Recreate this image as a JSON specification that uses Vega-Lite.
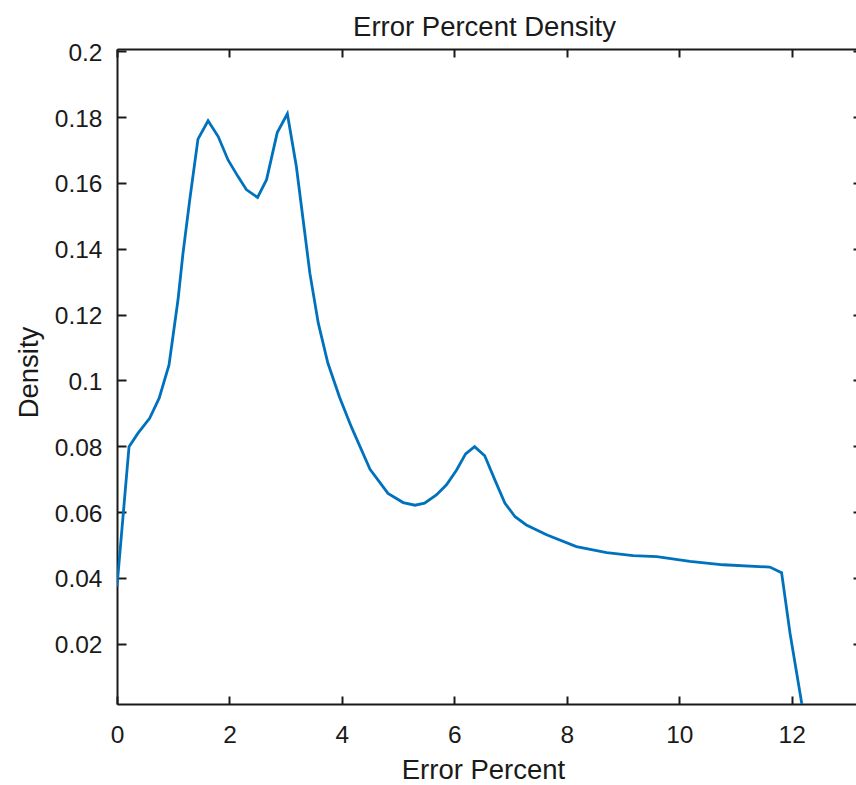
{
  "$schema": "https://vega.github.io/schema/vega-lite/v6.json",
  "autosize": "none",
  "width": 745,
  "height": 655,
  "padding": {"left": 117, "top": 49, "right": 0, "bottom": 81},
  "background": "white",
  "config": {
    "font": "Liberation Sans",
    "view": {"stroke": null},
    "axis": {"grid": false, "labelFlush": false, "labelOverlap": false, "domainColor": "#1a1a1a", "domainWidth": 2, "tickColor": "#1a1a1a", "tickWidth": 2, "labelColor": "#1a1a1a", "titleColor": "#1a1a1a", "labelFont": "Liberation Sans", "titleFont": "Liberation Sans", "labelFontSize": 24.5, "titleFontSize": 27.5, "titleFontWeight": "normal"}
  },
  "title": {"text": "Error Percent Density", "fontSize": 27.5, "fontWeight": "normal", "font": "Liberation Sans", "color": "#1a1a1a", "anchor": "middle", "baseline": "alphabetic", "offset": -23, "dx": -5},
  "data": {"values": [
    {"x": 0.0, "y": 0.0374},
    {"x": 0.214, "y": 0.0799},
    {"x": 0.374, "y": 0.084},
    {"x": 0.58, "y": 0.0885},
    {"x": 0.75, "y": 0.0946},
    {"x": 0.925, "y": 0.1047},
    {"x": 1.085, "y": 0.1245},
    {"x": 1.174, "y": 0.1387},
    {"x": 1.294, "y": 0.1549},
    {"x": 1.44, "y": 0.1733},
    {"x": 1.62, "y": 0.1789},
    {"x": 1.8, "y": 0.1741},
    {"x": 1.975, "y": 0.167},
    {"x": 2.15, "y": 0.162},
    {"x": 2.3, "y": 0.158},
    {"x": 2.5, "y": 0.1556},
    {"x": 2.66, "y": 0.161},
    {"x": 2.85, "y": 0.1753},
    {"x": 3.03, "y": 0.181},
    {"x": 3.19, "y": 0.165},
    {"x": 3.34, "y": 0.1448},
    {"x": 3.43, "y": 0.1326},
    {"x": 3.58, "y": 0.1174},
    {"x": 3.75, "y": 0.1053},
    {"x": 3.96, "y": 0.0948},
    {"x": 4.17, "y": 0.0858},
    {"x": 4.5, "y": 0.073},
    {"x": 4.82, "y": 0.0657},
    {"x": 5.09, "y": 0.0629},
    {"x": 5.3, "y": 0.0621},
    {"x": 5.47, "y": 0.0627},
    {"x": 5.68, "y": 0.0652},
    {"x": 5.86, "y": 0.0683},
    {"x": 6.04, "y": 0.0728},
    {"x": 6.2, "y": 0.0777},
    {"x": 6.36, "y": 0.0799},
    {"x": 6.54, "y": 0.0771},
    {"x": 6.72, "y": 0.0698},
    {"x": 6.9, "y": 0.0627},
    {"x": 7.08, "y": 0.0586},
    {"x": 7.28, "y": 0.0561},
    {"x": 7.64, "y": 0.0531},
    {"x": 8.17, "y": 0.0495},
    {"x": 8.71, "y": 0.0477},
    {"x": 9.18, "y": 0.0468},
    {"x": 9.6, "y": 0.0465},
    {"x": 10.19, "y": 0.045},
    {"x": 10.78, "y": 0.044},
    {"x": 11.61, "y": 0.0433},
    {"x": 11.82, "y": 0.0416},
    {"x": 11.97, "y": 0.0232},
    {"x": 12.18, "y": 0.0017}
  ]},
  "layer": [
    {
      "mark": {"type": "line", "color": "#0072BD", "strokeWidth": 2.8, "clip": true},
      "encoding": {
        "x": {"field": "x", "type": "quantitative", "scale": {"domain": [0, 13.25], "nice": false, "zero": false},
              "axis": {"orient": "bottom", "values": [0, 2, 4, 6, 8, 10, 12], "tickSize": -8, "labelPadding": 27, "title": "Error Percent", "titleX": 366, "titleY": 74, "titleBaseline": "alphabetic", "titleAlign": "center", "titleAnchor": null}},
        "y": {"field": "y", "type": "quantitative", "scale": {"domain": [0.0017, 0.2007], "nice": false, "zero": false},
              "axis": {"orient": "left", "values": [0.02, 0.04, 0.06, 0.08, 0.1, 0.12, 0.14, 0.16, 0.18, 0.2], "format": "~g", "tickSize": -9, "labelPadding": 24, "labelOffset": 2, "title": "Density", "titleAngle": -90, "titleX": -80, "titleY": 323, "titleBaseline": "alphabetic", "titleAlign": "center", "titleAnchor": null}}
      }
    },
    {
      "mark": {"type": "line", "strokeOpacity": 0},
      "encoding": {
        "x": {"field": "x", "type": "quantitative", "axis": {"orient": "top", "values": [0, 2, 4, 6, 8, 10, 12], "tickSize": -8, "labels": false, "title": null}},
        "y": {"field": "y", "type": "quantitative", "axis": {"orient": "right", "values": [0.02, 0.04, 0.06, 0.08, 0.1, 0.12, 0.14, 0.16, 0.18, 0.2], "tickSize": -9, "labels": false, "title": null}}
      }
    }
  ],
  "resolve": {"axis": {"x": "independent", "y": "independent"}}
}
